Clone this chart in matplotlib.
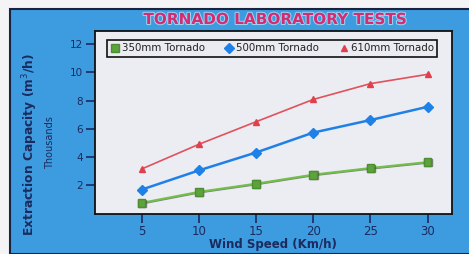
import matplotlib.pyplot as plt
import matplotlib.patheffects as pe
from matplotlib.patches import Rectangle

# data (thousands of m3/h)
wind_speed = [5, 10, 15, 20, 25, 30]
cap_350 = [0.75, 1.53, 2.11, 2.75, 3.22, 3.64]
cap_500 = [1.69, 3.05, 4.32, 5.73, 6.62, 7.56]
cap_610 = [3.15, 4.90, 6.50, 8.08, 9.20, 9.86]
series_labels = ['350mm Tornado', '500mm Tornado', '610mm Tornado']
x_ticks = [5, 10, 15, 20, 25, 30]
y_ticks = [2, 4, 6, 8, 10, 12]

PANEL = '#3d9be0'
NAVY = '#1b2b5e'
PLOT_BG = '#ececf3'

fig = plt.figure(figsize=(4.69, 2.54), dpi=100)
fig.patch.set_facecolor('#f4f4f7')

# blue panel behind the chart
panel = Rectangle((10 / 469, 0), 1.0, 1 - 9 / 254, transform=fig.transFigure,
                  facecolor=PANEL, edgecolor='#1a2440', linewidth=1.5, zorder=0)
fig.add_artist(panel)

ax = fig.add_axes([95 / 469, 1 - 213.5 / 254, (451.7 - 95) / 469, (213.5 - 30.7) / 254])
ax.set_facecolor(PLOT_BG)

ax.plot(wind_speed, cap_610, color='#e0525c', lw=1.2, marker='^', ms=5,
        mfc='#e0404c', mec='#e0404c', label=series_labels[2], zorder=3)
ax.plot(wind_speed, cap_500, color='#1f80e6', lw=1.8, marker='D', ms=5.5,
        mfc='#1f80e6', mec='#1f80e6', label=series_labels[1], zorder=3)
ax.plot(wind_speed, cap_350, color='#72c048', lw=1.5, marker='s', ms=5.5,
        mfc='#5ea23c', mec='#4e8e32', label=series_labels[0], zorder=3,
        path_effects=[pe.SimpleLineShadow(offset=(0.4, -0.4), shadow_color='#2e3a2a', alpha=0.6),
                      pe.Normal()])

ax.set_xlim(0.93, 32.1)
ax.set_ylim(0, 12.95)
ax.set_xticks(x_ticks)
ax.set_yticks(y_ticks)
for s in ax.spines.values():
    s.set_color('#111111')
    s.set_linewidth(1.3)
ax.tick_params(axis='both', colors=NAVY, length=6.5, width=1.2, direction='out')
ax.tick_params(axis='x', labelsize=8.5, pad=1.5)
ax.tick_params(axis='y', labelsize=7.5, pad=2)
for t in ax.get_xticklabels() + ax.get_yticklabels():
    t.set_color(NAVY)

ax.set_xlabel('Wind Speed (Km/h)', fontsize=8.5, fontweight='bold', color=NAVY, labelpad=0)

fig.text(30 / 469, 1 - 145 / 254, 'Extraction Capacity (m$^3$/h)', rotation=90,
         ha='center', va='center', fontsize=8.8, fontweight='bold', color=NAVY)
fig.text(50 / 469, 1 - 143 / 254, 'Thousands', rotation=90,
         ha='center', va='center', fontsize=7, color=NAVY)

fig.text(275 / 469, 1 - 19.5 / 254, 'TORNADO LABORATORY TESTS', ha='center', va='center',
         fontsize=11, fontweight='bold', color='#d42c72',
         path_effects=[pe.withStroke(linewidth=1.5, foreground='#9ad0f0')])

h, l = ax.get_legend_handles_labels()
order = [2, 1, 0]
leg = ax.legend([h[i] for i in order], [l[i] for i in order], ncol=3,
                loc='lower left', bbox_to_anchor=(0.034, 0.856, 0.926, 0.137),
                mode='expand', fontsize=7.4, frameon=True, fancybox=False,
                handlelength=0.8, handletextpad=0.3, columnspacing=0.8,
                borderaxespad=0, borderpad=0.35)
for line in leg.get_lines():
    line.set_linestyle('none')
    line.set_path_effects([])
leg.get_frame().set_edgecolor('#111111')
leg.get_frame().set_linewidth(1.2)
leg.get_frame().set_facecolor('#ebebf2')
leg.get_frame().set_alpha(1)
for t in leg.get_texts():
    t.set_color('#222222')

fig.savefig('out.png', dpi=100)
